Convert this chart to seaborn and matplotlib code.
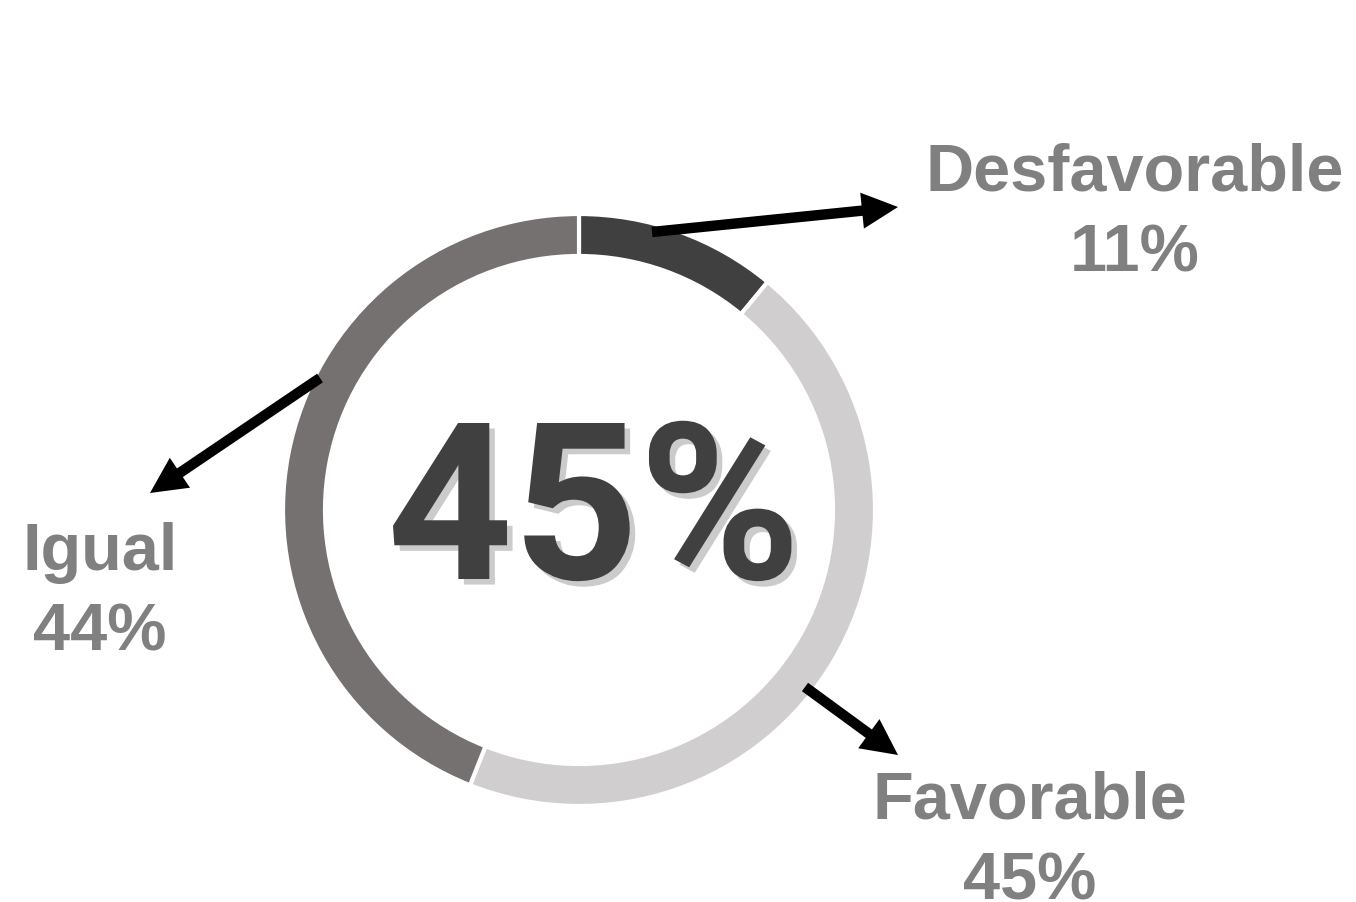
import matplotlib
matplotlib.use("Agg")
import matplotlib.pyplot as plt
import matplotlib.patheffects as pe
import seaborn as sns

# data
labels = ["Desfavorable", "Favorable", "Igual"]
values = [11, 45, 44]
colors = ["#404040", "#D0CECE", "#767171"]
center_label = "45%"

sns.set_theme(style="white")
plt.rcParams["font.family"] = ["Liberation Sans", "DejaVu Sans"]

W, H = 1356, 902
fig = plt.figure(figsize=(W / 100, H / 100), dpi=100)
ax = fig.add_axes([0, 0, 1, 1])

# donut, starting at 12 o'clock going clockwise
cx, cy, r = 579, H - 510, 296
ax.pie(values, colors=colors, startangle=90, counterclock=False,
       center=(cx, cy), radius=r, frame=True,
       wedgeprops=dict(width=42, edgecolor="white", linewidth=3))
ax.set_xlim(0, W)
ax.set_ylim(0, H)
ax.set_aspect("equal")
ax.axis("off")

# big number in the middle with a soft shadow
ax.text(594, H - 579, center_label, ha="center", va="baseline",
        fontsize=158, fontweight="bold", color="#404040",
        family=["Roboto", "DejaVu Sans"],
        path_effects=[pe.SimplePatchShadow(offset=(4, -4), alpha=0.22),
                      pe.Normal()])

# labels and arrows
label_pos = {"Desfavorable": (1135, H - 214),
             "Favorable": (1030, H - 842),
             "Igual": (100, H - 593)}
arrows = {"Desfavorable": ((652, H - 232), (898, H - 207)),
          "Favorable": ((805, H - 687), (898, H - 755)),
          "Igual": ((320, H - 378), (150, H - 493))}

for lab, val in zip(labels, values):
    x, y = label_pos[lab]
    ax.text(x, y, f"{lab}\n{val}%", ha="center", va="center",
            fontsize=48, fontweight="bold", color="#808080", linespacing=1.38)
    start, end = arrows[lab]
    ax.annotate("", xy=end, xytext=start,
                arrowprops=dict(arrowstyle="simple,head_length=2.6,head_width=2.6,tail_width=0.75",
                                mutation_scale=10, lw=0, color="black",
                                shrinkA=0, shrinkB=0))

fig.savefig("out.png", dpi=100, facecolor="white")
